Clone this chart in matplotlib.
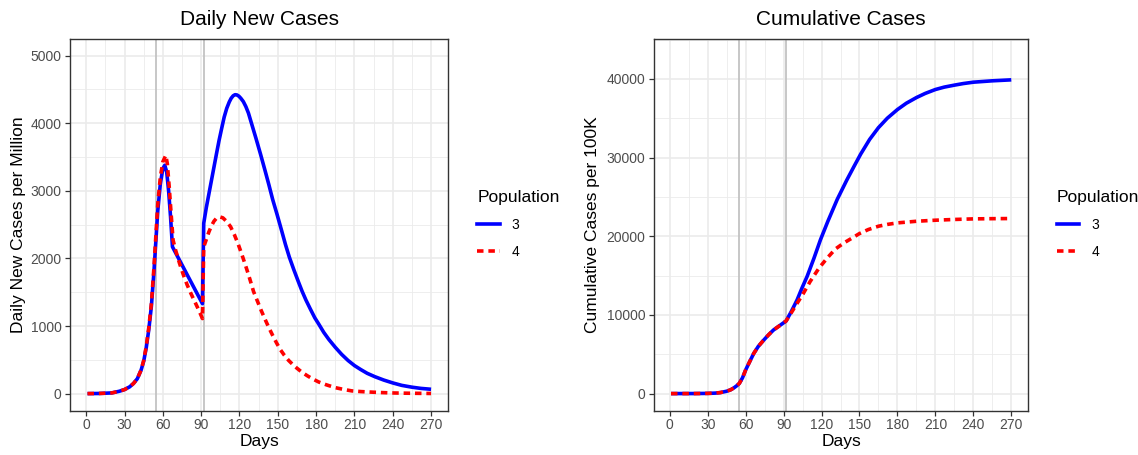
import matplotlib
matplotlib.use("Agg")
import matplotlib.pyplot as plt
from matplotlib.lines import Line2D
from matplotlib.ticker import MultipleLocator

plt.rcParams['font.family'] = ['Liberation Sans', 'DejaVu Sans']

# daily new cases per million, population 3 (blue) and 4 (red)
daily_days_3 = [1, 10, 20, 26, 30, 34, 37, 40, 43, 45, 47, 49, 51, 53, 54.5, 56, 58, 60, 61.5,
                63, 64.5, 66, 67.5, 91, 92, 94, 96, 98, 100, 102, 104, 106, 108, 110, 112, 113.5,
                115, 116.5, 118, 119.5, 121, 123, 125, 127, 130, 133, 136.5, 140, 143, 146, 149.5,
                153, 156, 159, 162.5, 166, 169, 172, 175.5, 179, 182, 186, 190, 195, 200, 205,
                210, 215, 220, 226, 233, 240, 247, 255, 262, 270]
daily_cases_3 = [0, 2, 10, 35, 60, 100, 150, 220, 350, 480, 680, 950, 1290, 1800, 2250, 2700, 3100,
                 3330, 3378, 3280, 3000, 2620, 2172, 1330, 2520, 2750, 2950, 3150, 3350, 3550, 3745,
                 3920, 4090, 4220, 4315, 4370, 4405, 4422, 4418, 4400, 4370, 4320, 4245, 4150,
                 3960, 3770, 3540, 3300, 3090, 2870, 2645, 2410, 2205, 2020, 1835, 1660, 1515,
                 1385, 1250, 1120, 1030, 905, 800, 685, 580, 490, 415, 355, 300, 250, 200, 158,
                 122, 95, 77, 64]

daily_days_4 = [1, 10, 20, 26, 30, 34, 37, 40, 43, 45, 47, 49, 51, 53, 54.5, 56, 58, 60, 62.3,
                63.5, 65, 66.5, 68, 70, 73, 76, 79, 82, 85, 88, 91, 92, 94, 96, 98, 100, 102,
                104.5, 107, 110, 113, 116, 119, 122, 125, 128, 131, 134, 137, 140, 143, 146,
                149, 152, 155, 158.5, 162, 165, 169, 173, 177, 182, 188, 195, 202, 208, 215,
                221, 230, 239, 250, 260, 270]
daily_cases_4 = [0, 2, 10, 35, 60, 100, 150, 220, 350, 490, 700, 980, 1330, 1860, 2330, 2800, 3200,
                 3430, 3525, 3400, 3050, 2650, 2270, 2120, 1930, 1760, 1610, 1480, 1360, 1240,
                 1110, 2170, 2280, 2390, 2480, 2550, 2595, 2615, 2600, 2545, 2470, 2350, 2210,
                 2050, 1880, 1700, 1510, 1370, 1230, 1100, 975, 860, 750, 650, 570, 490, 425,
                 375, 315, 265, 220, 172, 130, 88, 60, 40, 30, 24, 16, 10, 6, 4, 2]

# cumulative cases per 100K
cum_days_3 = [1, 20, 30, 36, 40, 45, 48, 50.5, 53, 55, 57.5, 60, 63, 66.4, 70, 74.3, 78, 82, 87,
              92, 96, 100.7, 104.5, 108.6, 114, 119.2, 125, 132.4, 140, 145.6, 150.9, 158, 165,
              172, 180, 187, 195, 202, 210, 217, 225, 232, 240, 255, 270]
cum_cases_3 = [0, 5, 25, 60, 128, 300, 470, 700, 1000, 1300, 2000, 3000, 4000, 5100, 6000, 6800,
               7450, 8080, 8650, 9234, 10400, 11915, 13400, 14894, 17200, 19574, 21900, 24681,
               27150, 28850, 30426, 32300, 33800, 35000, 36100, 36900, 37620, 38150, 38644,
               38950, 39200, 39400, 39576, 39750, 39873]

cum_days_4 = [1, 20, 30, 36, 40, 45, 48, 50.5, 53, 55, 57.5, 60, 63, 66.4, 70, 74.3, 78, 82, 87,
              92, 96, 100, 105.5, 111, 118, 124.5, 131, 137.7, 145, 150, 157, 165, 172, 180,
              195, 210, 225, 240, 255, 270]
cum_cases_4 = [0, 5, 25, 60, 128, 300, 470, 700, 1000, 1300, 2000, 3000, 4000, 5100, 6000, 6800,
               7450, 8080, 8650, 9234, 10250, 11300, 12700, 14250, 15950, 17234, 18383, 19149,
               19850, 20339, 20850, 21271, 21500, 21695, 21900, 22034, 22130, 22203, 22230,
               22246]

event_days = [55, 92]
populations = ['3', '4']
line_colors = ['#0000FF', '#FF0000']

fig = plt.figure(figsize=(11.38, 4.55), dpi=100)
ax1 = fig.add_axes([0.0618, 0.0978, 0.3321, 0.8171])
ax2 = fig.add_axes([0.5747, 0.0978, 0.3289, 0.8171])

lw = 2.6
dash = (1.8, 1.35)


def style_panel(ax, title, ylabel, ymajor, yminor, ylim, ylab_x):
    ax.set_facecolor('white')
    ax.set_xlim(-12.45, 283.45)
    ax.set_ylim(*ylim)
    ax.xaxis.set_major_locator(MultipleLocator(30))
    ax.xaxis.set_minor_locator(MultipleLocator(15))
    ax.yaxis.set_major_locator(MultipleLocator(ymajor))
    ax.yaxis.set_minor_locator(MultipleLocator(yminor))
    ax.grid(which='major', color='#EBEBEB', linewidth=1.2)
    ax.grid(which='minor', color='#EBEBEB', linewidth=0.6)
    ax.set_axisbelow(True)
    ax.tick_params(which='major', length=3.3, width=0.9, color='#333333',
                   labelcolor='#4D4D4D', labelsize=10)
    ax.tick_params(axis='x', which='major', pad=2.2)
    ax.tick_params(axis='y', which='major', pad=3.0)
    ax.tick_params(which='minor', length=0)
    for s in ax.spines.values():
        s.set_color('#333333')
        s.set_linewidth(1.0)
    ax.set_title(title, fontsize=15, pad=9.9)
    ax.set_xlabel('Days', fontsize=12.5)
    ax.set_ylabel(ylabel, fontsize=12.5)
    ax.xaxis.set_label_coords(0.5, -0.063)
    ax.yaxis.set_label_coords(ylab_x, 0.5)
    for d in event_days:
        ax.axvline(d, color='#BEBEBE', linewidth=1.2, zorder=1.5)
    handles = [Line2D([0], [0], color=line_colors[0], linewidth=lw),
               Line2D([0], [0], color=line_colors[1], linewidth=lw, dashes=dash)]
    ax.legend(handles, populations, title='Population', loc='center left',
              bbox_to_anchor=(1.077, 0.5), frameon=False, alignment='left',
              fontsize=10, title_fontsize=12.5, handlelength=1.6,
              handletextpad=0.85, labelspacing=0.95, borderpad=0, borderaxespad=0)


# left: daily new cases
ax1.plot(daily_days_3, daily_cases_3, color=line_colors[0], linewidth=lw,
         solid_capstyle='butt', solid_joinstyle='round', zorder=3)
ax1.plot(daily_days_4, daily_cases_4, color=line_colors[1], linewidth=lw,
         dashes=dash, dash_capstyle='butt', zorder=4)
style_panel(ax1, 'Daily New Cases', 'Daily New Cases per Million', 1000, 500,
            (-250, 5250), -0.117)

# right: cumulative
ax2.plot(cum_days_3, cum_cases_3, color=line_colors[0], linewidth=lw,
         solid_capstyle='butt', solid_joinstyle='round', zorder=3)
ax2.plot(cum_days_4, cum_cases_4, color=line_colors[1], linewidth=lw,
         dashes=dash, dash_capstyle='butt', zorder=4)
style_panel(ax2, 'Cumulative Cases', 'Cumulative Cases per 100K', 10000, 5000,
            (-2150, 45100), -0.144)

fig.savefig('out.png', dpi=100, facecolor='white')
